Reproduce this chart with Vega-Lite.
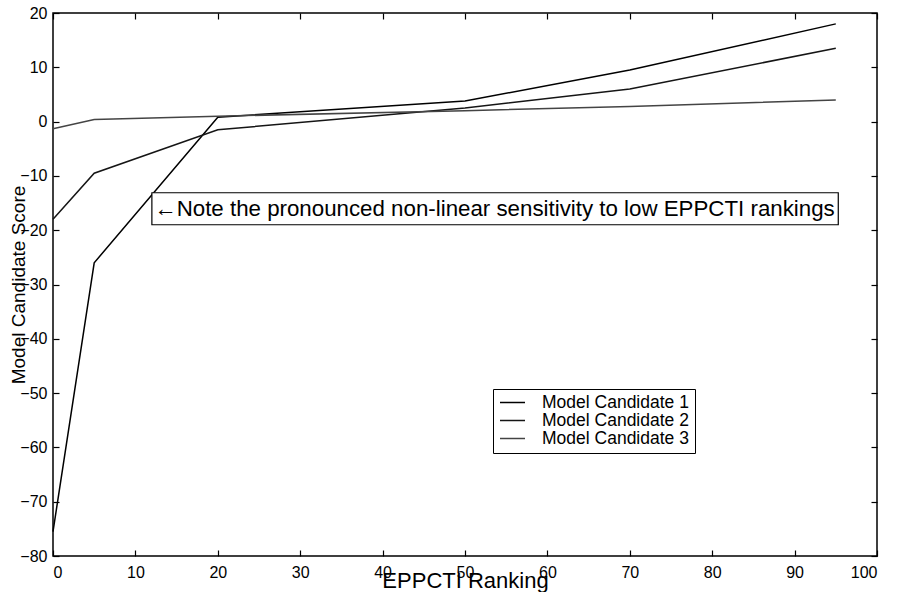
{
  "$schema": "https://vega.github.io/schema/vega-lite/v6.json",
  "width": 824,
  "height": 543,
  "autosize": {"type": "none"},
  "padding": {"left": 53, "top": 13, "right": 20, "bottom": 36},
  "background": "white",
  "config": {
    "font": "Liberation Sans",
    "view": {"stroke": "black", "strokeWidth": 1.5},
    "axis": {
      "grid": false,
      "domain": false,
      "tickColor": "black",
      "tickWidth": 1.2,
      "tickSize": -6,
      "labelColor": "black",
      "labelFont": "Liberation Sans",
      "labelFontSize": 16,
      "titleColor": "black",
      "titleFont": "Liberation Sans",
      "titleFontWeight": "normal"
    }
  },
  "datasets": {
    "series": [
      {"rank": 0, "score": -75.5, "model": "Model Candidate 1"},
      {"rank": 5, "score": -26, "model": "Model Candidate 1"},
      {"rank": 20, "score": 0.8, "model": "Model Candidate 1"},
      {"rank": 50, "score": 3.8, "model": "Model Candidate 1"},
      {"rank": 70, "score": 9.5, "model": "Model Candidate 1"},
      {"rank": 95, "score": 18, "model": "Model Candidate 1"},
      {"rank": 0, "score": -18, "model": "Model Candidate 2"},
      {"rank": 5, "score": -9.5, "model": "Model Candidate 2"},
      {"rank": 20, "score": -1.5, "model": "Model Candidate 2"},
      {"rank": 50, "score": 2.5, "model": "Model Candidate 2"},
      {"rank": 70, "score": 6, "model": "Model Candidate 2"},
      {"rank": 95, "score": 13.5, "model": "Model Candidate 2"},
      {"rank": 0, "score": -1.3, "model": "Model Candidate 3"},
      {"rank": 5, "score": 0.4, "model": "Model Candidate 3"},
      {"rank": 20, "score": 1, "model": "Model Candidate 3"},
      {"rank": 50, "score": 2, "model": "Model Candidate 3"},
      {"rank": 70, "score": 2.8, "model": "Model Candidate 3"},
      {"rank": 95, "score": 4, "model": "Model Candidate 3"}
    ],
    "note": [
      {"x1": 12.0, "x2": 95.3, "y1": -13.1, "y2": -19.0, "tx": 12.3, "ty": -16.1, "label": "←Note the pronounced non-linear sensitivity to low EPPCTI rankings"}
    ]
  },
  "layer": [
    {
      "data": {"name": "series"},
      "mark": {"type": "line", "strokeWidth": 1.5},
      "encoding": {
        "x": {
          "field": "rank", "type": "quantitative",
          "scale": {"domain": [0, 100], "nice": false},
          "axis": {"values": [0,10,20,30,40,50,60,70,80,90,100], "labelPadding": 14, "title": "EPPCTI Ranking", "titleFontSize": 22, "titleY": 24, "titleBaseline": "middle"}
        },
        "y": {
          "field": "score", "type": "quantitative",
          "scale": {"domain": [-80, 20], "nice": false},
          "axis": {"values": [-80,-70,-60,-50,-40,-30,-20,-10,0,10,20], "labelPadding": 12, "title": "Model Candidate Score", "titleFontSize": 19, "titleX": -35, "titleBaseline": "middle", "titleAlign": "center", "titleAngle": -90}
        },
        "color": {
          "field": "model", "type": "nominal",
          "scale": {"range": ["#000000", "#151515", "#444444"]},
          "legend": {
            "title": null, "orient": "none", "legendX": 440, "legendY": 376,
            "symbolType": "stroke", "symbolSize": 625, "symbolStrokeWidth": 1.5,
            "clipHeight": 15,
            "labelFontSize": 17.5, "labelColor": "black", "labelOffset": 16,
            "rowPadding": 0, "padding": 6,
            "strokeColor": "black", "fillColor": "white"
          }
        }
      }
    },
    {
      "data": {"name": "note"},
      "mark": {"type": "rect", "fill": "white", "stroke": "black", "strokeWidth": 1.2},
      "encoding": {
        "x": {"field": "x1", "type": "quantitative", "scale": {"domain": [0, 100], "nice": false}, "axis": {"orient": "top", "values": [0,10,20,30,40,50,60,70,80,90,100], "labels": false, "title": null}},
        "x2": {"field": "x2"},
        "y": {"field": "y1", "type": "quantitative", "scale": {"domain": [-80, 20], "nice": false}, "axis": {"orient": "right", "values": [-80,-70,-60,-50,-40,-30,-20,-10,0,10,20], "labels": false, "title": null}},
        "y2": {"field": "y2"}
      }
    },
    {
      "data": {"name": "note"},
      "mark": {"type": "text", "align": "left", "baseline": "middle", "fontSize": 22.3, "color": "black", "font": "Liberation Sans"},
      "encoding": {
        "x": {"field": "tx", "type": "quantitative", "axis": null},
        "y": {"field": "ty", "type": "quantitative", "axis": null},
        "text": {"field": "label"}
      }
    }
  ],
  "resolve": {"axis": {"x": "independent", "y": "independent"}}
}
